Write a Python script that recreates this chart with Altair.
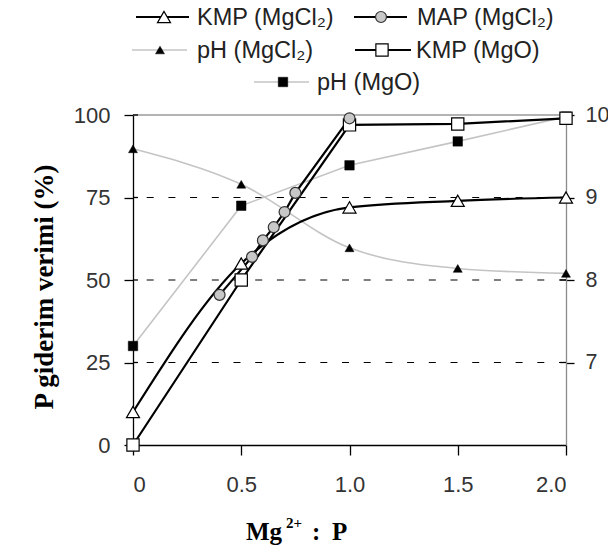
import altair as alt
import pandas as pd

# ---------------- data ----------------
ratio = [0, 0.5, 1.0, 1.5, 2.0]
kmp_mgcl2 = [10, 55, 72, 74, 75]
kmp_mgo = [0, 50, 97, 97.3, 99]
map_ratio = [0.4, 0.55, 0.6, 0.65, 0.7, 0.75, 1.0]
map_mgcl2 = [45.5, 57, 62, 66, 70.6, 76.4, 99]
ph_mgcl2 = [9.59, 9.16, 8.39, 8.14, 8.08]
ph_mgo = [7.2, 8.9, 9.39, 9.68, 9.98]

x_ticks = [0, 0.5, 1.0, 1.5, 2.0]
y_ticks = [0, 25, 50, 75, 100]
ph_ticks = [7, 8, 9, 10]
grid_vals = [25, 50, 75]
top_val = [100]
ph_min, ph_max = 6, 10

legend_labels = ["KMP (MgCl₂)", "MAP (MgCl₂)", "pH (MgCl₂)", "KMP (MgO)", "pH (MgO)"]
y_title = "P giderim verimi (%)"

# ---------------- layout ----------------
W, H = 433, 330
SANS = "Liberation Sans"
SERIF = "Liberation Serif"
GRAY_LINE = "#c4c4c4"

xscale = alt.Scale(domain=[0, 2], nice=False, zero=False)
yscale = alt.Scale(domain=[0, 100], nice=False)
# pH values are mapped onto the shared percent scale: pH 6..10 <-> 0..100
PH_CALC = f"(datum.p - {ph_min}) * 100 / ({ph_max} - {ph_min})"

STY = {
    "KMP (MgCl₂)": dict(line="black", lw=2.2, shape="triangle-up", fill="white", stroke="black", size=170, sw=1.2),
    "MAP (MgCl₂)": dict(line="black", lw=2.2, shape="circle", fill="#c8c8c8", stroke="#333333", size=120, sw=1.2),
    "pH (MgCl₂)": dict(line=GRAY_LINE, lw=1.6, shape="triangle-up", fill="black", stroke="black", size=80, sw=0.5),
    "KMP (MgO)": dict(line="black", lw=2.2, shape="square", fill="white", stroke="black", size=150, sw=1.2),
    "pH (MgO)": dict(line=GRAY_LINE, lw=1.6, shape="square", fill="black", stroke="black", size=90, sw=0.5),
}

x_axis = alt.Axis(
    orient="bottom", values=x_ticks, tickSize=10, labelPadding=19,
    labelExpr="datum.value == 0 ? '0' : format(datum.value, '.1f')",
    labelFont=SANS, labelFontSize=22, labelColor="#333333", title="",
    domainColor="black", tickColor="black", domainWidth=1.3, tickWidth=1.3, grid=False,
)
y_axis = alt.Axis(
    orient="left", values=y_ticks, title=None, tickSize=9, labelPadding=14,
    labelFont=SANS, labelFontSize=22, labelColor="#333333",
    domainColor="black", tickColor="black", domainWidth=1.3, tickWidth=1.3, grid=False,
)
ph_axis = alt.Axis(
    orient="right", values=[(t - ph_min) * 100 / (ph_max - ph_min) for t in ph_ticks], title=None,
    labelExpr=f"format(datum.value * ({ph_max} - {ph_min}) / 100 + {ph_min}, 'd')",
    tickSize=8, labelPadding=11,
    labelFont=SANS, labelFontSize=21.5, labelColor="#333333",
    domainColor="#8a8a8a", tickColor="black", domainWidth=1.3, tickWidth=1.3, grid=False,
)

X = alt.X("r:Q", scale=xscale, axis=x_axis)


def series(xs, ys, name, is_ph, interp, yaxis=None):
    s = STY[name]
    if is_ph:
        base = alt.Chart(pd.DataFrame({"r": xs, "p": ys})).transform_calculate(v=PH_CALC)
    else:
        base = alt.Chart(pd.DataFrame({"r": xs, "v": ys}))
    line = base.mark_line(color=s["line"], strokeWidth=s["lw"], interpolate=interp).encode(
        x=X,
        y=alt.Y("v:Q", scale=yscale, axis=yaxis),
    )
    pts = base.mark_point(
        shape=s["shape"], filled=True, fill=s["fill"], stroke=s["stroke"],
        size=s["size"], strokeWidth=s["sw"], opacity=1,
    ).encode(
        x=X,
        y=alt.Y("v:Q", scale=yscale, axis=None),
    )
    return line, pts


one = pd.DataFrame({"a": [0]})

ph1_l, ph1_p = series(ratio, ph_mgcl2, "pH (MgCl₂)", True, "monotone", yaxis=ph_axis)
ph2_l, ph2_p = series(ratio, ph_mgo, "pH (MgO)", True, "linear")
ph_inner = alt.Chart(pd.DataFrame({"p": ph_ticks})).transform_calculate(v=PH_CALC).mark_rule(
    color="black", strokeWidth=1.3
).encode(y=alt.Y("v:Q", scale=yscale, axis=None), x=alt.value(W - 6), x2=alt.value(W))

grid = alt.Chart(pd.DataFrame({"g": grid_vals})).mark_rule(
    color="black", strokeWidth=1.2, strokeDash=[7, 14.7]
).encode(y=alt.Y("g:Q", scale=yscale, axis=None))
top = alt.Chart(pd.DataFrame({"t": top_val})).mark_rule(color="#9a9a9a", strokeWidth=1.3).encode(
    y=alt.Y("t:Q", scale=yscale, axis=None)
)
inner = alt.Chart(pd.DataFrame({"t": y_ticks})).mark_rule(color="black", strokeWidth=1.3).encode(
    y=alt.Y("t:Q", scale=yscale, axis=None), x=alt.value(0), x2=alt.value(5)
)
k1_l, k1_p = series(ratio, kmp_mgcl2, "KMP (MgCl₂)", False, "monotone", yaxis=y_axis)
m_l, m_p = series(map_ratio, map_mgcl2, "MAP (MgCl₂)", False, "linear")
k2_l, k2_p = series(ratio, kmp_mgo, "KMP (MgO)", False, "linear")

# ---------------- legend (manual) ----------------
legend_pos = [  # (line x0, line x1, marker x, text x, y)
    (3, 56, 31, 64, -98),
    (221, 274, 248, 284, -98),
    (-1, 54, 27, 64, -65),
    (222, 278, 249, 283, -65),
    (121, 176, 150, 184, -33),
]
legend_layers = []
for name, (x0, x1, mx, tx, ly) in zip(legend_labels, legend_pos):
    s = STY[name]
    legend_layers.append(
        alt.Chart(one).mark_rule(color=s["line"], strokeWidth=s["lw"]).encode(
            x=alt.value(x0), x2=alt.value(x1), y=alt.value(ly)
        )
    )
    legend_layers.append(
        alt.Chart(one).mark_point(
            shape=s["shape"], filled=True, fill=s["fill"], stroke=s["stroke"],
            size=s["size"], strokeWidth=s["sw"], opacity=1,
        ).encode(x=alt.value(mx), y=alt.value(ly))
    )
    legend_layers.append(
        alt.Chart(one).mark_text(
            text=name, font=SANS, fontSize=23.5, color="#222222", align="left", baseline="middle"
        ).encode(x=alt.value(tx), y=alt.value(ly + 1))
    )

# ---------------- titles ----------------
ytitle = alt.Chart(one).mark_text(
    text=y_title, font=SERIF, fontSize=27, fontWeight="bold", color="black",
    angle=270, align="center", baseline="alphabetic",
).encode(x=alt.value(-80), y=alt.value(172))


def ttext(t, x, y, size):
    return alt.Chart(one).mark_text(
        text=t, font=SERIF, fontSize=size, fontWeight="bold", color="black",
        align="left", baseline="alphabetic",
    ).encode(x=alt.value(x), y=alt.value(y))


xtitle = [ttext("Mg", 113, 425, 25), ttext("2+", 153, 413, 15), ttext(":", 179, 425, 25), ttext("P", 199, 425, 25)]

chart = (
    alt.layer(
        grid, top, inner, ph_inner,
        ph1_l, ph2_l, ph1_p, ph2_p,
        k2_l, m_l, k1_l, k2_p, k1_p, m_p,
        ytitle, *xtitle, *legend_layers,
    )
    .resolve_axis(y="independent")
    .properties(
        width=W, height=H,
        padding={"left": 125, "top": 107, "right": 42, "bottom": 105},
        autosize=alt.AutoSizeParams(type="none"),
        background="white",
    )
    .configure_view(stroke=None)
)

chart.save("out.html", embed_options={"renderer": "svg", "actions": False})
